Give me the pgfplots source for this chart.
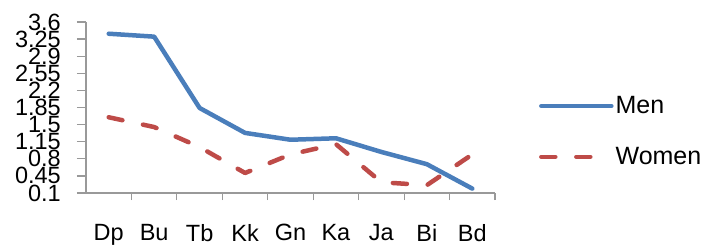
\documentclass[border=0pt]{standalone}
\usepackage{fontspec}
\setmainfont{Liberation Sans}
\usepackage{pgfplots}
\pgfplotsset{compat=1.18}
\definecolor{menblue}{HTML}{4A7EBB}
\definecolor{womenred}{HTML}{BE4B48}
\begin{document}
\begin{tikzpicture}
\useasboundingbox (-86pt,-53pt) rectangle (615pt,193pt);
\begin{axis}[
  at={(0pt,0pt)}, anchor=origin,
  scale only axis, width=409pt, height=171pt,
  xmin=0, xmax=9, ymin=0.1, ymax=3.6,
  axis x line*=bottom, axis y line*=left,
  axis line style={draw=gray!80, line width=1.2pt},
  xtick={0.5,1.5,...,8.5},
  xticklabels={Dp,Bu,Tb,Kk,Gn,Ka,Ja,Bi,Bd},
  minor xtick={1,2,...,9},
  major x tick style={draw=none},
  minor x tick style={draw=gray!80, line width=1.2pt},
  minor tick length=7pt,
  ytick={0.1,0.45,0.8,1.15,1.5,1.85,2.2,2.55,2.9,3.25,3.6},
  yticklabels={0.1,0.45,0.8,1.15,1.5,1.85,2.2,2.55,2.9,3.25,3.6},
  y tick style={draw=gray!80, line width=1.2pt},
  major tick length=9pt,
  tick align=outside,
  /pgf/number format/assume math mode=true,
  ticklabel style={font=\fontsize{23.5}{24}\selectfont},
  xticklabel style={yshift=-19pt},
  yticklabel style={xshift=-16pt, inner sep=0pt},
  legend style={at={(1.1,0.36)}, anchor=west, draw=none, fill=none,
    font=\fontsize{25}{26}\selectfont, row sep=28pt,
    /tikz/every even column/.append style={column sep=0pt}},
  legend cell align=left,
  legend image code/.code={\draw[#1] (0pt,0pt) -- (70pt,0pt);},
  clip=false,
]
\addplot[menblue, line width=4.5pt, line join=round, line cap=round] coordinates {
 (0.5,3.36) (1.5,3.30) (2.5,1.84) (3.5,1.33) (4.5,1.19) (5.5,1.22) (6.5,0.94) (7.5,0.69) (8.5,0.19)};
\addlegendentry{Men}
\addplot[womenred, line width=4.5pt, line join=round, line cap=round, dash pattern=on 14pt off 21pt] coordinates {
 (0.5,1.65) (1.5,1.45) (2.5,1.04) (3.5,0.51) (4.5,0.89) (5.5,1.10) (6.5,0.32) (7.5,0.26) (8.5,0.89)};
\addlegendentry{Women}
\end{axis}
\end{tikzpicture}
\end{document}
